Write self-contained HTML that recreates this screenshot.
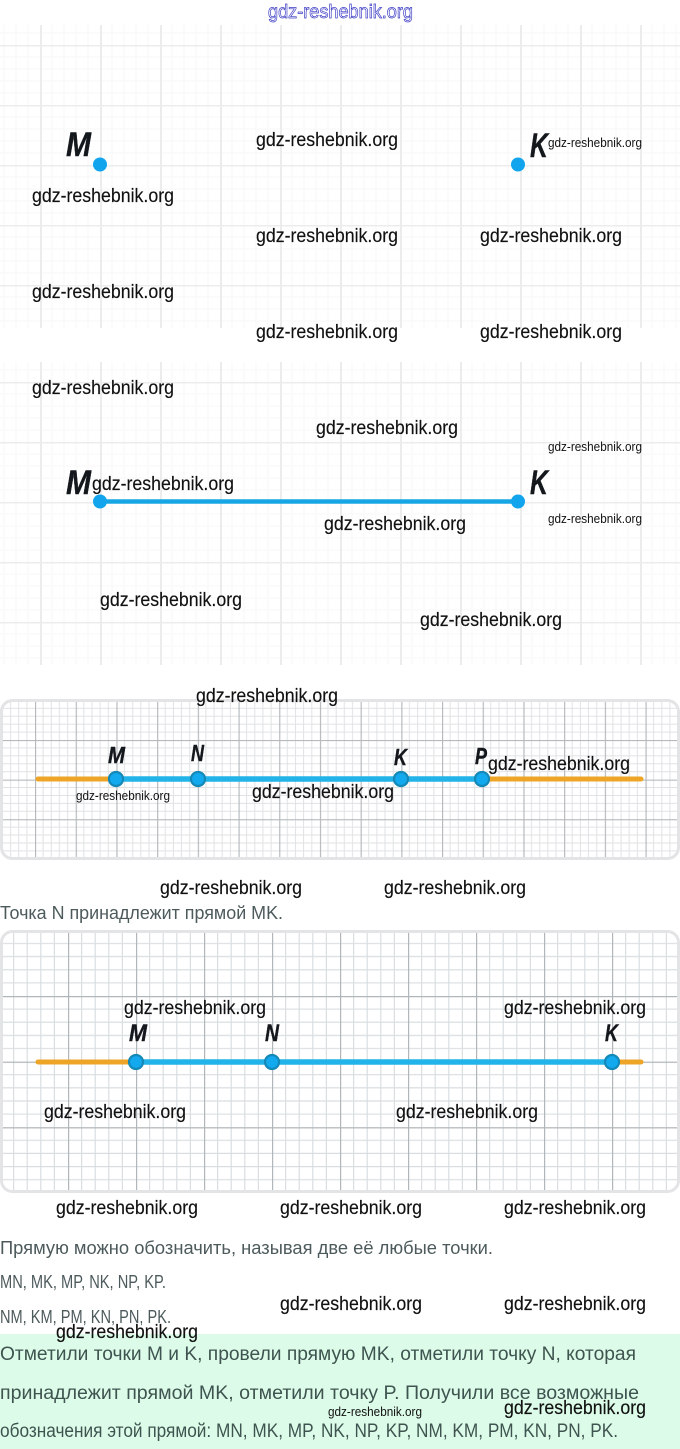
<!DOCTYPE html>
<html><head><meta charset="utf-8">
<style>
html,body{margin:0;padding:0;background:#fff;width:680px;height:1449px;overflow:hidden}
svg{display:block}
.w{font-family:"Liberation Sans",sans-serif;font-size:19px;fill:#111;stroke:#111;stroke-width:.15px}
.s{font-family:"Liberation Sans",sans-serif;font-size:13px;fill:#111}
.l{font-family:"Liberation Sans",sans-serif;font-weight:bold;font-style:italic;fill:#14181c;stroke:#14181c;stroke-width:.4px}
.t{font-family:"Liberation Sans",sans-serif;font-size:18px;fill:#4d5a5c}
.g{font-family:"Liberation Sans",sans-serif;font-size:19px;fill:#3f5450}
</style></head><body>
<svg width="680" height="1449" viewBox="0 0 680 1449" xmlns="http://www.w3.org/2000/svg">
<defs>
<pattern id="p1" x="40" y="45" width="60" height="60" patternUnits="userSpaceOnUse">
<path d="M12 0V60M24 0V60M36 0V60M48 0V60M0 12H60M0 24H60M0 36H60M0 48H60" stroke="#fafafa" stroke-width="1.5" fill="none"/>
<path d="M1 0V60M0 0.5H60" stroke="#ececec" stroke-width="2" fill="none"/>
</pattern>
<pattern id="p2" x="40" y="382" width="60" height="60" patternUnits="userSpaceOnUse">
<path d="M12 0V60M24 0V60M36 0V60M48 0V60M0 12H60M0 24H60M0 36H60M0 48H60" stroke="#fafafa" stroke-width="1.5" fill="none"/>
<path d="M1 0V60M0 0.5H60" stroke="#ececec" stroke-width="2" fill="none"/>
</pattern>
<pattern id="p3" x="35" y="740" width="40.7" height="39.6" patternUnits="userSpaceOnUse">
<path d="M8.1 0V40M16.3 0V40M24.4 0V40M32.6 0V40M0 7.9H41M0 15.8H41M0 23.8H41M0 31.7H41" stroke="#dfe2e4" stroke-width="1" fill="none"/>
<path d="M0.5 0V40M0 0.5H41" stroke="#b5b9bc" stroke-width="1.3" fill="none"/>
</pattern>
<pattern id="p4" x="68" y="996" width="68" height="65.6" patternUnits="userSpaceOnUse">
<path d="M13.6 0V66M27.2 0V66M40.8 0V66M54.4 0V66M0 13.1H68M0 26.2H68M0 39.4H68M0 52.5H68" stroke="#d9dee1" stroke-width="1.2" fill="none"/>
<path d="M0.5 0V66M0 0.5H68" stroke="#b0b6b9" stroke-width="1.4" fill="none"/>
</pattern>
<clipPath id="c3"><rect x="2" y="701" width="676" height="157" rx="10"/></clipPath>
<clipPath id="c4"><rect x="2" y="932" width="676" height="260" rx="10"/></clipPath>
</defs>

<rect x="0" y="25" width="680" height="303" fill="url(#p1)"/>
<rect x="0" y="362" width="680" height="303" fill="url(#p2)"/>

<circle cx="100" cy="164.500" r="7" fill="#12a5ee"/>
<circle cx="518" cy="164.500" r="7" fill="#12a5ee"/>
<text class="l" x="66" y="156" font-size="34" textLength="25" lengthAdjust="spacingAndGlyphs">M</text>
<text class="l" x="530" y="157" font-size="34" textLength="18" lengthAdjust="spacingAndGlyphs">K</text>

<line x1="100" y1="501.500" x2="518" y2="501.500" stroke="#18a5e3" stroke-width="4.500"/>
<circle cx="100" cy="501.500" r="7" fill="#12a5ee"/>
<circle cx="518" cy="501.500" r="7" fill="#12a5ee"/>
<text class="l" x="66" y="494" font-size="34" textLength="25" lengthAdjust="spacingAndGlyphs">M</text>
<text class="l" x="530" y="494" font-size="34" textLength="18" lengthAdjust="spacingAndGlyphs">K</text>

<g clip-path="url(#c3)"><rect x="0" y="700" width="680" height="160" fill="#fff"/><rect x="0" y="700" width="680" height="160" fill="url(#p3)"/></g>
<rect x="1.500" y="700.500" width="677" height="158" rx="11" fill="none" stroke="#e2e4e5" stroke-width="3"/>
<line x1="38" y1="779" x2="116" y2="779" stroke="#eea427" stroke-width="5" stroke-linecap="round"/>
<line x1="482" y1="779" x2="641" y2="779" stroke="#eea427" stroke-width="5" stroke-linecap="round"/>
<line x1="116" y1="779" x2="482" y2="779" stroke="#22b4e8" stroke-width="5.500"/>
<g fill="#12a9ee" stroke="#1489b8" stroke-width="2.200">
<circle cx="116" cy="779" r="7"/><circle cx="198" cy="779" r="7"/><circle cx="401" cy="779" r="7"/><circle cx="482" cy="779" r="7"/>
</g>
<text class="l" x="108" y="763" font-size="23" textLength="17" lengthAdjust="spacingAndGlyphs">M</text>
<text class="l" x="191" y="761" font-size="23" textLength="13" lengthAdjust="spacingAndGlyphs">N</text>
<text class="l" x="394" y="765" font-size="23" textLength="13" lengthAdjust="spacingAndGlyphs">K</text>
<text class="l" x="475" y="764" font-size="23" textLength="12" lengthAdjust="spacingAndGlyphs">P</text>

<g clip-path="url(#c4)"><rect x="0" y="931" width="680" height="262" fill="#fff"/><rect x="0" y="931" width="680" height="262" fill="url(#p4)"/></g>
<rect x="1.500" y="931.500" width="677" height="260" rx="11" fill="none" stroke="#e2e4e5" stroke-width="3"/>
<line x1="38" y1="1062" x2="136" y2="1062" stroke="#eea427" stroke-width="5" stroke-linecap="round"/>
<line x1="612" y1="1062" x2="641" y2="1062" stroke="#eea427" stroke-width="5" stroke-linecap="round"/>
<line x1="136" y1="1062" x2="612" y2="1062" stroke="#22b4e8" stroke-width="5.500"/>
<g fill="#12a9ee" stroke="#1489b8" stroke-width="2.200">
<circle cx="136" cy="1062" r="7"/><circle cx="272" cy="1062" r="7"/><circle cx="612" cy="1062" r="7"/>
</g>
<text class="l" x="129" y="1041" font-size="24" textLength="18" lengthAdjust="spacingAndGlyphs">M</text>
<text class="l" x="265" y="1041" font-size="24" textLength="14" lengthAdjust="spacingAndGlyphs">N</text>
<text class="l" x="605" y="1041" font-size="24" textLength="13" lengthAdjust="spacingAndGlyphs">K</text>

<rect x="0" y="1334" width="680" height="115" fill="#dcfce9"/>

<text class="t" x="0" y="919" textLength="283" lengthAdjust="spacingAndGlyphs">Точка N принадлежит прямой MK.</text>
<text class="t" x="0" y="1254" textLength="493" lengthAdjust="spacingAndGlyphs">Прямую можно обозначить, называя две её любые точки.</text>
<text class="t" x="0" y="1288" textLength="166" lengthAdjust="spacingAndGlyphs">MN, MK, MP, NK, NP, KP.</text>
<text class="t" x="0" y="1323" textLength="171" lengthAdjust="spacingAndGlyphs">NM, KM, PM, KN, PN, PK.</text>
<text class="g" x="0" y="1360" textLength="636" lengthAdjust="spacingAndGlyphs">Отметили точки M и K, провели прямую MK, отметили точку N, которая</text>
<text class="g" x="0" y="1399" textLength="639" lengthAdjust="spacingAndGlyphs">принадлежит прямой MK, отметили точку P. Получили все возможные</text>
<text class="g" x="0" y="1437" textLength="618" lengthAdjust="spacingAndGlyphs">обозначения этой прямой: MN, MK, MP, NK, NP, KP, NM, KM, PM, KN, PN, PK.</text>

<text x="268" y="18" font-family="Liberation Sans, sans-serif" font-size="19" fill="#fff" stroke="#3b3bc4" stroke-width="0.700" textLength="145" lengthAdjust="spacingAndGlyphs">gdz-reshebnik.org</text>

<g transform="translate(0,1)">
<text class="w" x="256" y="145" textLength="142" lengthAdjust="spacingAndGlyphs">gdz-reshebnik.org</text>
<text class="w" x="32" y="201" textLength="142" lengthAdjust="spacingAndGlyphs">gdz-reshebnik.org</text>
<text class="w" x="256" y="241" textLength="142" lengthAdjust="spacingAndGlyphs">gdz-reshebnik.org</text>
<text class="w" x="480" y="241" textLength="142" lengthAdjust="spacingAndGlyphs">gdz-reshebnik.org</text>
<text class="w" x="32" y="297" textLength="142" lengthAdjust="spacingAndGlyphs">gdz-reshebnik.org</text>
<text class="w" x="256" y="337" textLength="142" lengthAdjust="spacingAndGlyphs">gdz-reshebnik.org</text>
<text class="w" x="480" y="337" textLength="142" lengthAdjust="spacingAndGlyphs">gdz-reshebnik.org</text>
<text class="w" x="32" y="393" textLength="142" lengthAdjust="spacingAndGlyphs">gdz-reshebnik.org</text>
<text class="w" x="316" y="433" textLength="142" lengthAdjust="spacingAndGlyphs">gdz-reshebnik.org</text>
<text class="w" x="92" y="489" textLength="142" lengthAdjust="spacingAndGlyphs">gdz-reshebnik.org</text>
<text class="w" x="324" y="529" textLength="142" lengthAdjust="spacingAndGlyphs">gdz-reshebnik.org</text>
<text class="w" x="100" y="605" textLength="142" lengthAdjust="spacingAndGlyphs">gdz-reshebnik.org</text>
<text class="w" x="420" y="625" textLength="142" lengthAdjust="spacingAndGlyphs">gdz-reshebnik.org</text>
<text class="w" x="196" y="701" textLength="142" lengthAdjust="spacingAndGlyphs">gdz-reshebnik.org</text>
<text class="w" x="488" y="769" textLength="142" lengthAdjust="spacingAndGlyphs">gdz-reshebnik.org</text>
<text class="w" x="252" y="797" textLength="142" lengthAdjust="spacingAndGlyphs">gdz-reshebnik.org</text>
<text class="w" x="160" y="893" textLength="142" lengthAdjust="spacingAndGlyphs">gdz-reshebnik.org</text>
<text class="w" x="384" y="893" textLength="142" lengthAdjust="spacingAndGlyphs">gdz-reshebnik.org</text>
<text class="w" x="124" y="1013" textLength="142" lengthAdjust="spacingAndGlyphs">gdz-reshebnik.org</text>
<text class="w" x="504" y="1013" textLength="142" lengthAdjust="spacingAndGlyphs">gdz-reshebnik.org</text>
<text class="w" x="44" y="1117" textLength="142" lengthAdjust="spacingAndGlyphs">gdz-reshebnik.org</text>
<text class="w" x="396" y="1117" textLength="142" lengthAdjust="spacingAndGlyphs">gdz-reshebnik.org</text>
<text class="w" x="56" y="1213" textLength="142" lengthAdjust="spacingAndGlyphs">gdz-reshebnik.org</text>
<text class="w" x="280" y="1213" textLength="142" lengthAdjust="spacingAndGlyphs">gdz-reshebnik.org</text>
<text class="w" x="504" y="1213" textLength="142" lengthAdjust="spacingAndGlyphs">gdz-reshebnik.org</text>
<text class="w" x="280" y="1309" textLength="142" lengthAdjust="spacingAndGlyphs">gdz-reshebnik.org</text>
<text class="w" x="504" y="1309" textLength="142" lengthAdjust="spacingAndGlyphs">gdz-reshebnik.org</text>
<text class="w" x="56" y="1337" textLength="142" lengthAdjust="spacingAndGlyphs">gdz-reshebnik.org</text>
<text class="w" x="504" y="1413" textLength="142" lengthAdjust="spacingAndGlyphs">gdz-reshebnik.org</text>
<text class="s" x="548" y="146" textLength="94" lengthAdjust="spacingAndGlyphs">gdz-reshebnik.org</text>
<text class="s" x="548" y="450" textLength="94" lengthAdjust="spacingAndGlyphs">gdz-reshebnik.org</text>
<text class="s" x="548" y="522" textLength="94" lengthAdjust="spacingAndGlyphs">gdz-reshebnik.org</text>
<text class="s" x="76" y="799" textLength="94" lengthAdjust="spacingAndGlyphs">gdz-reshebnik.org</text>
<text class="s" x="328" y="1415" textLength="94" lengthAdjust="spacingAndGlyphs">gdz-reshebnik.org</text>
</g>
</svg>
</body></html>
